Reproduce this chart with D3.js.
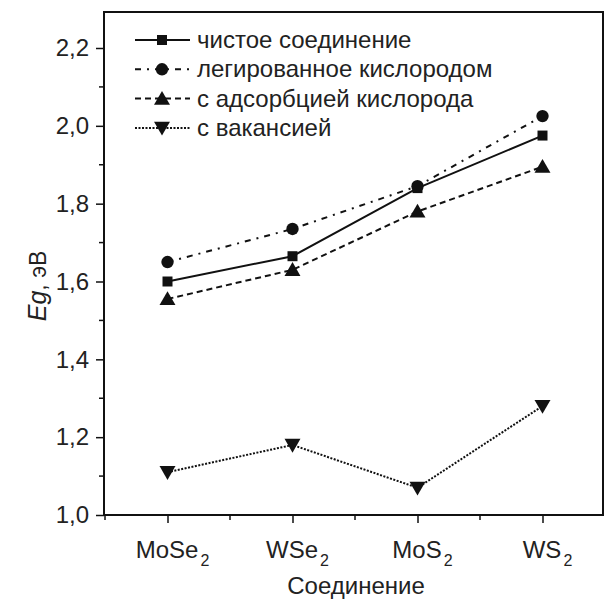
<!DOCTYPE html>
<html>
<head>
<meta charset="utf-8">
<script src="https://cdn.jsdelivr.net/npm/d3@7"></script>
<style>
  body { margin: 0; background: #fff; }
  text { font-family: "Liberation Sans", Arial, sans-serif; fill: #111; }
</style>
</head>
<body>
<div id="chart"></div>
<script>
// данные
var compounds = ["MoSe", "WSe", "MoS", "WS"];
var pure = [1.60, 1.665, 1.84, 1.975];
var doped = [1.65, 1.735, 1.845, 2.025];
var adsorbed = [1.555, 1.63, 1.78, 1.895];
var vacancy = [1.11, 1.18, 1.07, 1.28];
var seriesNames = ["чистое соединение", "легированное кислородом", "с адсорбцией кислорода", "с вакансией"];
var yTicks = [1.0, 1.2, 1.4, 1.6, 1.8, 2.0, 2.2];

var width = 604, height = 599;
var mLeft = 104, mTop = 12, mRight = 603, mBottom = 515;

var svg = d3.select("#chart").append("svg")
    .attr("width", width)
    .attr("height", height);

var x = d3.scaleLinear().domain([-0.5, 3.5]).range([105, 605]);
var y = d3.scaleLinear().domain([1.0, 2.2]).range([mBottom, 48]);

// рамка
svg.append("rect")
    .attr("x", mLeft).attr("y", mTop)
    .attr("width", mRight - mLeft).attr("height", mBottom - mTop)
    .attr("fill", "none").attr("stroke", "#111").attr("stroke-width", 2);

// ось Y
var yAxis = svg.append("g")
    .attr("transform", `translate(${mLeft},0)`)
    .call(d3.axisLeft(y).tickValues(yTicks).tickSize(8).tickPadding(7)
        .tickFormat(d => d3.format(".1f")(d).replace(".", ",")));
yAxis.select(".domain").remove();
yAxis.selectAll("line").attr("stroke", "#111").attr("stroke-width", 1.5);
yAxis.selectAll("text").style("font-size", "24px").style("fill", "#222");

// малые деления Y
svg.append("g").selectAll("line")
    .data(d3.range(1.1, 2.3, 0.2))
    .enter().append("line")
    .attr("x1", mLeft - 5).attr("x2", mLeft)
    .attr("y1", d => y(d)).attr("y2", d => y(d))
    .attr("stroke", "#111").attr("stroke-width", 1.5);

// ось X
var xAxis = svg.append("g")
    .attr("transform", `translate(0,${mBottom})`)
    .call(d3.axisBottom(x).tickValues([0, 1, 2, 3]).tickSize(8).tickFormat(""));
xAxis.select(".domain").remove();
xAxis.selectAll("line").attr("stroke", "#111").attr("stroke-width", 1.5);

svg.append("g").selectAll("line")
    .data([-0.5, 0.5, 1.5, 2.5, 3.5])
    .enter().append("line")
    .attr("x1", d => x(d)).attr("x2", d => x(d))
    .attr("y1", mBottom).attr("y2", mBottom + 5)
    .attr("stroke", "#111").attr("stroke-width", 1.5);

var xl = svg.append("g").selectAll("text")
    .data(compounds)
    .enter().append("text")
    .attr("x", (d, i) => x(i) + 5)
    .attr("y", 558)
    .attr("text-anchor", "middle")
    .style("font-size", "24px")
    .style("fill", "#222");
xl.append("tspan").text(d => d);
xl.append("tspan").attr("dy", 8).attr("dx", 2).style("font-size", "16px").text("2");

svg.append("text")
    .attr("x", 356).attr("y", 594)
    .attr("text-anchor", "middle")
    .style("font-size", "24px")
    .style("fill", "#222")
    .text("Соединение");

var yl = svg.append("text")
    .attr("transform", "translate(46,286) rotate(-90)")
    .attr("text-anchor", "middle")
    .style("font-size", "25px")
    .style("fill", "#222");
yl.append("tspan").style("font-style", "italic").text("Eg");
yl.append("tspan").style("font-size", "23px").text(", эВ");

// серии
var series = [
    { name: seriesNames[0], values: pure, dash: null, marker: d3.symbolSquare, size: 100, rot: 0 },
    { name: seriesNames[1], values: doped, dash: "6,6,2,6", marker: d3.symbolCircle, size: 120, rot: 0 },
    { name: seriesNames[2], values: adsorbed, dash: "6,4", marker: d3.symbolTriangle, size: 110, rot: 0 },
    { name: seriesNames[3], values: vacancy, dash: "2,1.5", marker: d3.symbolTriangle, size: 110, rot: 180 }
];

var line = d3.line()
    .x((d, i) => x(i))
    .y(d => y(d));

series.forEach(function (s) {
    svg.append("path")
        .datum(s.values)
        .attr("d", line)
        .attr("fill", "none")
        .attr("stroke", "#111")
        .attr("stroke-width", 2)
        .attr("stroke-dasharray", s.dash);

    svg.append("g").selectAll("path")
        .data(s.values)
        .enter().append("path")
        .attr("d", d3.symbol().type(s.marker).size(s.size))
        .attr("transform", (d, i) => `translate(${x(i)},${y(d) + (s.marker === d3.symbolTriangle ? (s.rot ? -1.5 : 1.5) : 0)}) rotate(${s.rot})`)
        .attr("fill", "#111");
});

// легенда
var legend = svg.append("g").selectAll("g")
    .data(series)
    .enter().append("g")
    .attr("transform", (d, i) => `translate(135,${40 + i * 29.3})`);

legend.append("line")
    .attr("x1", 0).attr("x2", 55)
    .attr("stroke", "#111").attr("stroke-width", 2)
    .attr("stroke-dasharray", d => d.dash);

legend.append("path")
    .attr("d", d => d3.symbol().type(d.marker).size(d.size)())
    .attr("transform", d => `translate(27,${d.marker === d3.symbolTriangle ? (d.rot ? -1.5 : 1.5) : 0}) rotate(${d.rot})`)
    .attr("fill", "#111");

legend.append("text")
    .attr("x", 62).attr("y", 8)
    .style("font-size", "24px")
    .style("fill", "#222")
    .text(d => d.name);
</script>
</body>
</html>
